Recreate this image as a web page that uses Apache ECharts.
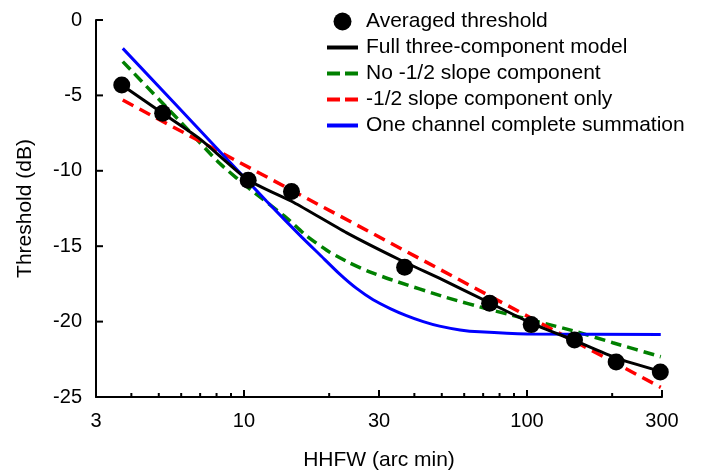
<!DOCTYPE html>
<html>
<head>
<meta charset="utf-8">
<script src="https://cdn.jsdelivr.net/npm/echarts@6/dist/echarts.min.js"></script>
<style>
html,body{margin:0;padding:0;background:#fff;}
#chart{width:706px;height:476px;}
</style>
</head>
<body>
<div id="chart"></div>
<script>
// x = HHFW (arc min), y = threshold (dB)
var avgX = [3.7, 5.16, 10.35, 14.72, 36.96, 73.8, 103.5, 147.2, 206.6, 295.9];
var avgY = [-4.31, -6.19, -10.63, -11.38, -16.4, -18.79, -20.2, -21.22, -22.68, -23.34];

var fullX = [3.7, 5.16, 7, 10.35, 15, 23, 35.5, 50, 73.8, 103.5, 147, 206, 297];
var fullY = [-4.31, -6.19, -7.9, -10.61, -12.1, -14.1, -15.9, -17.2, -18.75, -20.1, -21.25, -22.4, -23.3];

var noHalfX = [3.73, 6, 8.2, 10.8, 14.1, 16.6, 20.1, 23.6, 27.8, 33.5, 51.9, 73.8, 145, 201, 297];
var noHalfY = [-2.76, -6.8, -9.5, -11.4, -13.1, -14.3, -15.4, -16.1, -16.7, -17.25, -18.4, -19.2, -20.6, -21.4, -22.33];

var halfOnlyX = [3.73, 297];
var halfOnlyY = [-5.31, -24.36];

var oneChX = [3.73, 8.2, 12, 16, 18.5, 21.8, 25, 28.6, 33, 37.5, 43, 49.1, 58, 68, 100, 297];
var oneChY = [-1.88, -8.7, -12.0, -14.4, -15.55, -16.85, -17.8, -18.55, -19.15, -19.6, -20.0, -20.3, -20.55, -20.68, -20.82, -20.85];

var xMin = 3, xMax = 300, yMin = -25, yMax = 0;
var xTicks = [3, 10, 30, 100, 300];
var xMinorTicks = [4, 5, 6, 7, 8, 9, 20, 40, 50, 60, 70, 80, 90, 200];
var yTicks = [-25, -20, -15, -10, -5, 0];

var names = ['Averaged threshold', 'Full three-component model', 'No -1/2 slope component',
             '-1/2 slope component only', 'One channel complete summation'];

function pairs(xs, ys){
    var out = [];
    for (var i = 0; i < xs.length; i++) {
        out.push([xs[i], ys[i]]);
    }
    return out;
}

// tick marks drawn inward, placed by the axes' own scales
var xTickData = [];
xTicks.forEach(function(v){ xTickData.push([v, yMin, 7]); });
xMinorTicks.forEach(function(v){ xTickData.push([v, yMin, 4]); });
var yTickData = [];
yTicks.forEach(function(v){ yTickData.push([xMin, v, 7]); });

function renderXTick(params, api){
    var p = api.coord([api.value(0), api.value(1)]);
    return {type: 'line', shape: {x1: p[0], y1: p[1], x2: p[0], y2: p[1] - api.value(2)},
            style: {stroke: '#000', lineWidth: 2}};
}
function renderYTick(params, api){
    var p = api.coord([api.value(0), api.value(1)]);
    return {type: 'line', shape: {x1: p[0], y1: p[1], x2: p[0] + api.value(2), y2: p[1]},
            style: {stroke: '#000', lineWidth: 2}};
}

var font = 'Liberation Sans, Arial, sans-serif';
var solidIcon = 'path://M0,0h31v4h-31z';
var dashIcon = 'path://M0,0h13v4h-13zM18,0h13v4h-13z';

var myChart = echarts.init(document.getElementById('chart'));

var option = {
    animation: false,
    backgroundColor: '#fff',
    grid: {left: 96, right: 44, top: 20, bottom: 79},
    legend: {
        orient: 'vertical',
        left: 322,
        top: 6,
        itemWidth: 31,
        itemHeight: 18,
        itemGap: 5,
        data: [
            {name: names[0], icon: 'circle'},
            {name: names[1], icon: solidIcon},
            {name: names[2], icon: dashIcon},
            {name: names[3], icon: dashIcon},
            {name: names[4], icon: solidIcon}
        ],
        textStyle: {fontFamily: font, fontSize: 21, color: '#000', lineHeight: 18, padding: [0, 0, 0, 3]}
    },
    xAxis: {
        type: 'log',
        min: xMin,
        max: xMax,
        name: 'HHFW (arc min)',
        nameLocation: 'middle',
        nameGap: 53,
        nameTextStyle: {fontFamily: font, fontSize: 21, color: '#000'},
        axisLine: {onZero: false, lineStyle: {color: '#000', width: 2}},
        axisTick: {show: false},
        axisLabel: {
            customValues: xTicks,
            margin: 14,
            fontFamily: font,
            fontSize: 20,
            color: '#000',
            formatter: function(v){ return String(Math.round(v)); }
        },
        splitLine: {show: false}
    },
    yAxis: {
        type: 'value',
        min: yMin,
        max: yMax,
        interval: 5,
        name: 'Threshold (dB)',
        nameLocation: 'middle',
        nameGap: 60,
        nameTextStyle: {fontFamily: font, fontSize: 21, color: '#000'},
        axisLine: {show: true, onZero: false, lineStyle: {color: '#000', width: 2}},
        axisTick: {show: false},
        axisLabel: {margin: 14, fontFamily: font, fontSize: 20, color: '#000'},
        splitLine: {show: false}
    },
    series: [
        {
            name: names[0],
            type: 'scatter',
            symbol: 'circle',
            symbolSize: 17,
            itemStyle: {color: '#000', opacity: 1},
            z: 5,
            data: pairs(avgX, avgY)
        },
        {
            name: names[1],
            type: 'line',
            symbol: 'none',
            smooth: 0.2,
            lineStyle: {color: '#000', width: 3},
            itemStyle: {color: '#000'},
            z: 4,
            data: pairs(fullX, fullY)
        },
        {
            name: names[2],
            type: 'line',
            symbol: 'none',
            smooth: 0.2,
            lineStyle: {color: '#008000', width: 3.5, type: [11, 6]},
            itemStyle: {color: '#008000'},
            data: pairs(noHalfX, noHalfY)
        },
        {
            name: names[3],
            type: 'line',
            symbol: 'none',
            lineStyle: {color: '#ff0000', width: 3.5, type: [12, 7]},
            itemStyle: {color: '#ff0000'},
            data: pairs(halfOnlyX, halfOnlyY)
        },
        {
            name: names[4],
            type: 'line',
            symbol: 'none',
            smooth: 0.2,
            lineStyle: {color: '#0000ff', width: 3},
            itemStyle: {color: '#0000ff'},
            data: pairs(oneChX, oneChY)
        },
        {
            type: 'custom',
            silent: true,
            clip: false,
            renderItem: renderXTick,
            data: xTickData
        },
        {
            type: 'custom',
            silent: true,
            clip: false,
            renderItem: renderYTick,
            data: yTickData
        }
    ]
};
myChart.setOption(option);
</script>
</body>
</html>
